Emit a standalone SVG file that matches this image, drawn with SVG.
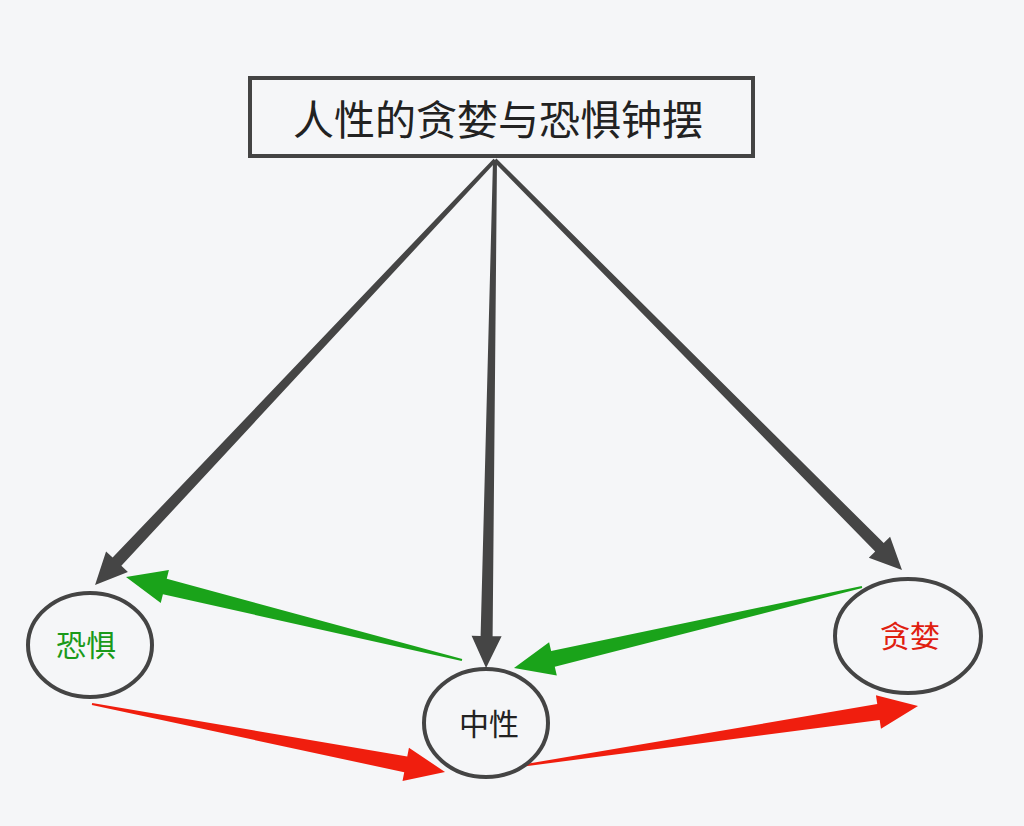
<svg xmlns="http://www.w3.org/2000/svg" width="1024" height="826" viewBox="0 0 1024 826">
<style>
.node{fill:#f5f6f8;stroke:#444;stroke-width:4}
.t{font-family:"Noto Sans CJK SC","Noto Sans",sans-serif;text-anchor:middle;dominant-baseline:central}
.dk{fill:#454545}.gr{fill:#1aa31a}.rd{fill:#f01e0e}
</style>
<rect width="1024" height="826" fill="#f5f6f8"/>
<g id="connectors">
<polygon class="dk" transform="translate(495,160) rotate(133.26)" points="0,-2 551.6,-6 551.6,-15 583.6,0 551.6,15 551.6,6 0,2"/>
<polygon class="dk" transform="translate(495,160) rotate(91.01)" points="0,-2 476.1,-6 476.1,-15 508.1,0 476.1,15 476.1,6 0,2"/>
<polygon class="dk" transform="translate(495,160) rotate(45.21)" points="0,-2 545.7,-6 545.7,-15 577.7,0 545.7,15 545.7,6 0,2"/>
<polygon class="gr" transform="translate(462,660) rotate(-166.12)" points="0,-1 306.1,-8 306.1,-17 346.1,0 306.1,17 306.1,8 0,1"/>
<polygon class="gr" transform="translate(862,587) rotate(166.9)" points="0,-1 317.3,-8 317.3,-17 357.3,0 317.3,17 317.3,8 0,1"/>
<polygon class="rd" transform="translate(92,704) rotate(10.9)" points="0,-1 319.5,-8 319.5,-17 359.5,0 319.5,17 319.5,8 0,1"/>
<polygon class="rd" transform="translate(520,766) rotate(-8.57)" points="0,-1 362.5,-8 362.5,-17 402.5,0 362.5,17 362.5,8 0,1"/>
</g>
<g id="title"><rect x="250" y="78" width="503" height="78" class="node" fill="#fff"/><text class="t" x="498" y="117" font-size="41" fill="#222">人性的贪婪与恐惧钟摆</text></g>
<g id="fear"><ellipse cx="90" cy="645" rx="62" ry="52" class="node"/><text class="t" x="86" y="643" font-size="30" fill="#1a9a1a">恐惧</text></g>
<g id="neutral"><ellipse cx="486" cy="723" rx="62" ry="54" class="node"/><text class="t" x="489" y="722" font-size="30" fill="#222">中性</text></g>
<g id="greed"><ellipse cx="908" cy="636" rx="73" ry="57" class="node"/><text class="t" x="910" y="634" font-size="30" fill="#e02010">贪婪</text></g>
</svg>
